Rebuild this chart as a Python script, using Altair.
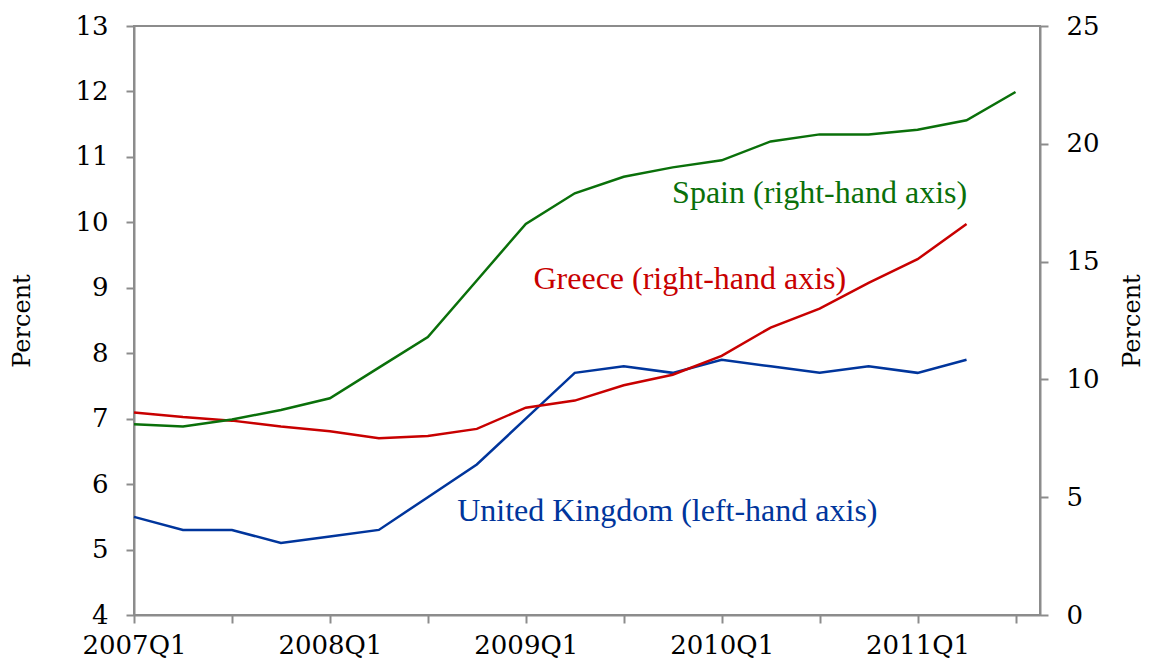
import json
import altair as alt
import pandas as pd

quarters = ["2007Q1", "2007Q2", "2007Q3", "2007Q4",
            "2008Q1", "2008Q2", "2008Q3", "2008Q4",
            "2009Q1", "2009Q2", "2009Q3", "2009Q4",
            "2010Q1", "2010Q2", "2010Q3", "2010Q4",
            "2011Q1", "2011Q2", "2011Q3"]

uk = [5.5, 5.3, 5.3, 5.1, 5.2, 5.3, 5.8, 6.3, 7.0, 7.7, 7.8, 7.7, 7.9, 7.8, 7.7, 7.8, 7.7, 7.9]
greece = [8.6, 8.4, 8.25, 8.0, 7.8, 7.5, 7.6, 7.9, 8.8, 9.1, 9.75, 10.2, 11.0, 12.2, 13.0, 14.1, 15.1, 16.6]
spain = [8.1, 8.0, 8.3, 8.7, 9.2, 10.5, 11.8, 14.2, 16.6, 17.9, 18.6, 19.0, 19.3, 20.1, 20.4, 20.4, 20.6, 21.0, 22.2]

left_ticks = [4, 5, 6, 7, 8, 9, 10, 11, 12, 13]
right_ticks = [0, 5, 10, 15, 20, 25]

label_text = ["United Kingdom (left-hand axis)", "Greece (right-hand axis)", "Spain (right-hand axis)"]
label_q = [10.89, 11.35, 14.0]
label_v = [5.43, 13.85, 17.48]

GREEN = "#0A700A"
RED = "#C80000"
BLUE = "#00359C"
GRAY = "#8C8C8C"
TICK_FONT = "DejaVu Serif"
LABEL_FONT = "Liberation Serif"

rows = []
for name, vals in [("United Kingdom", uk), ("Greece", greece), ("Spain", spain)]:
    for i, v in enumerate(vals):
        rows.append({"q": i, "quarter": quarters[i], "series": name, "value": v})
df = pd.DataFrame(rows)

labels_df = pd.DataFrame({"text": label_text, "q": label_q, "v": label_v,
                          "series": ["United Kingdom", "Greece", "Spain"]})

W, H = 906, 589

label_expr = "datum.value % 4 == 0 ? " + json.dumps(quarters) + "[datum.value] : ''"

x_enc = alt.X("q:Q",
              scale=alt.Scale(domain=[0, 18.5], nice=False, zero=False),
              axis=alt.Axis(values=list(range(0, 19, 2)), labelExpr=label_expr,
                            title=None, grid=False, tickSize=8, labelPadding=9,
                            labelFontSize=26, labelFont=TICK_FONT, labelColor="black",
                            domainColor=GRAY, tickColor=GRAY, domainWidth=2, tickWidth=2,
                            labelFlush=False, labelOverlap=False))

color_scale = alt.Scale(domain=["United Kingdom", "Greece", "Spain"], range=[BLUE, RED, GREEN])

left_y = alt.Y("value:Q",
               scale=alt.Scale(domain=[4, 13], nice=False, zero=False),
               axis=alt.Axis(orient="left", values=left_ticks, format="d", title="Percent", grid=False,
                             tickSize=8, labelPadding=18, labelFontSize=26, labelFont=TICK_FONT,
                             labelColor="black", domainColor=GRAY, tickColor=GRAY,
                             domainWidth=2, tickWidth=2,
                             titleFont=TICK_FONT, titleFontSize=24, titleFontWeight="normal",
                             titleColor="black", titleAngle=270, titleX=-112, titleY=H / 2,
                             titleAlign="center", titleBaseline="middle"))

right_y = alt.Y("value:Q",
                scale=alt.Scale(domain=[0, 25], nice=False, zero=True),
                axis=alt.Axis(orient="right", values=right_ticks, format="d", title="Percent", grid=False,
                              tickSize=8, labelPadding=18, labelFontSize=26, labelFont=TICK_FONT,
                              labelColor="black", domainColor=GRAY, tickColor=GRAY,
                              domainWidth=2, tickWidth=2,
                              titleFont=TICK_FONT, titleFontSize=24, titleFontWeight="normal",
                              titleColor="black", titleAngle=270, titleX=92, titleY=H / 2,
                              titleAlign="center", titleBaseline="middle"))

base = alt.Chart(df)

uk_line = base.transform_filter(alt.datum.series == "United Kingdom").mark_line(
    strokeWidth=2.5).encode(
    x=x_enc, y=left_y,
    color=alt.Color("series:N", scale=color_scale, legend=None),
    order="q:Q")

uk_text = alt.Chart(labels_df).transform_filter(alt.datum.series == "United Kingdom").mark_text(
    font=LABEL_FONT, fontSize=32, align="center", baseline="alphabetic").encode(
    x=alt.X("q:Q"), y=alt.Y("v:Q"), text="text:N",
    color=alt.Color("series:N", scale=color_scale, legend=None))

left = alt.layer(uk_line, uk_text)

right_lines = base.transform_filter(alt.datum.series != "United Kingdom").mark_line(
    strokeWidth=2.5).encode(
    x=x_enc, y=right_y,
    color=alt.Color("series:N", scale=color_scale, legend=None),
    detail="series:N", order="q:Q")

right_text = alt.Chart(labels_df).transform_filter(alt.datum.series != "United Kingdom").mark_text(
    font=LABEL_FONT, fontSize=32, align="center", baseline="alphabetic").encode(
    x=alt.X("q:Q"), y=alt.Y("v:Q"), text="text:N",
    color=alt.Color("series:N", scale=color_scale, legend=None))

right = alt.layer(right_lines, right_text)

chart = alt.layer(left, right).resolve_scale(y="independent").properties(
    width=W, height=H,
    autosize=alt.AutoSizeParams(type="none"),
    padding={"left": 126, "top": 18, "right": 105, "bottom": 44},
    background="white",
).configure_view(stroke=GRAY, strokeWidth=2)

chart.save("out.html", embed_options={"renderer": "svg", "actions": False})
